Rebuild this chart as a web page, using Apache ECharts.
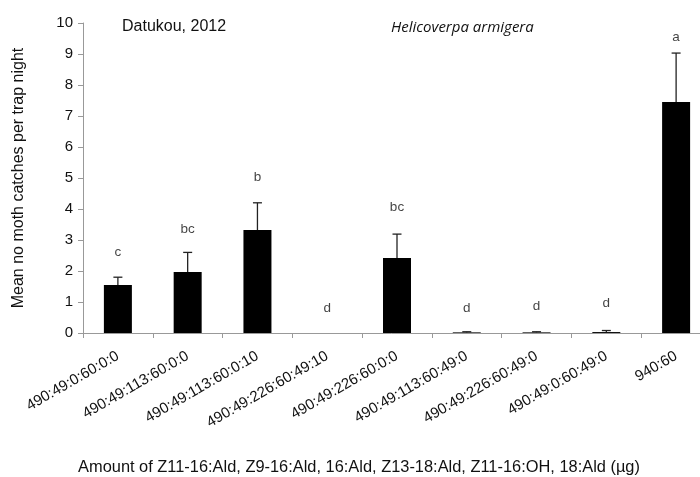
<!DOCTYPE html>
<html>
<head>
<meta charset="utf-8">
<script src="https://cdn.jsdelivr.net/npm/echarts@6/dist/echarts.min.js"></script>
<style>html,body{margin:0;padding:0;background:#fff}#c{width:700px;height:477px}</style>
</head>
<body>
<div id="c"></div>
<script>
var categories = ['490:49:0:60:0:0','490:49:113:60:0:0','490:49:113:60:0:10','490:49:226:60:49:10','490:49:226:60:0:0','490:49:113:60:49:0','490:49:226:60:49:0','490:49:0:60:49:0','940:60'];
var means = [1.55, 1.97, 3.32, 0, 2.42, 0.02, 0.02, 0.03, 7.45];
var errors = [0.25, 0.63, 0.88, 0, 0.77, 0.02, 0.02, 0.05, 1.58];
var letters = ['c','bc','b','d','bc','d','d','d','a'];
var letterPos = [2.6, 3.35, 5.03, 0.8, 4.06, 0.8, 0.87, 0.97, 9.55];
var yTicks = [0,1,2,3,4,5,6,7,8,9,10];

var chart = echarts.init(document.getElementById('c'));
var font = 'Liberation Sans, Arial, sans-serif';
chart.setOption({
  animation: false,
  backgroundColor: '#fff',
  grid: {left: 83, width: 628, top: 23, height: 310, outerBoundsMode: 'none', containLabel: false},
  title: [
    {text: 'Datukou, 2012', left: 117, top: 14, textStyle: {fontFamily: font, fontSize: 16, fontWeight: 'normal', color: '#111'}},
    {text: 'Helicoverpa armigera', left: 386, top: 15, textStyle: {fontFamily: 'Open Sans, sans-serif', fontStyle: 'italic', fontSize: 15, fontWeight: 'normal', color: '#111'}}
  ],
  xAxis: {
    type: 'category',
    data: categories,
    name: 'Amount of Z11-16:Ald, Z9-16:Ald, 16:Ald, Z13-18:Ald, Z11-16:OH, 18:Ald (\u00b5g)',
    nameLocation: 'middle',
    nameGap: 126,
    nameTextStyle: {fontFamily: font, fontSize: 16.4, color: '#111', padding: [0, 76, 0, 0]},
    axisLine: {lineStyle: {color: '#999', width: 1}},
    axisTick: {show: true, alignWithLabel: false, length: 5, lineStyle: {color: '#999'}},
    axisLabel: {interval: 0, rotate: 30, fontFamily: font, fontSize: 15, color: '#111', margin: 22}
  },
  yAxis: {
    type: 'value',
    min: 0, max: 10, interval: 1,
    name: 'Mean no moth catches per trap night',
    nameLocation: 'middle',
    nameGap: 56,
    nameTextStyle: {fontFamily: font, fontSize: 16, color: '#111'},
    splitLine: {show: false},
    axisLine: {show: true, lineStyle: {color: '#999', width: 1}},
    axisTick: {show: true, length: 5, lineStyle: {color: '#999'}},
    axisLabel: {fontFamily: font, fontSize: 15, color: '#111', margin: 10,
      formatter: function (v) { return yTicks.indexOf(v) >= 0 ? String(v) : ''; }}
  },
  series: [
    {
      type: 'bar',
      data: means,
      barWidth: 28,
      itemStyle: {color: '#000'},
      z: 2
    },
    {
      type: 'custom',
      z: 3,
      data: means.map(function (m, i) { return [i, m, m + errors[i]]; }),
      renderItem: function (params, api) {
        var i = api.value(0);
        var p0 = api.coord([i, api.value(1)]);
        var p1 = api.coord([i, api.value(2)]);
        if (api.value(2) - api.value(1) <= 0) return null;
        return {
          type: 'group',
          children: [
            {type: 'line', shape: {x1: p0[0], y1: p0[1], x2: p1[0], y2: p1[1]}, style: {stroke: '#222', lineWidth: 1.3}},
            {type: 'line', shape: {x1: p1[0] - 4.5, y1: p1[1], x2: p1[0] + 4.5, y2: p1[1]}, style: {stroke: '#222', lineWidth: 1.3}}
          ]
        };
      }
    },
    {
      type: 'scatter',
      data: letterPos.map(function (v, i) { return [i, v]; }),
      symbol: 'circle',
      symbolSize: 2,
      itemStyle: {color: 'rgba(0,0,0,0)'},
      z: 4,
      label: {
        show: true,
        position: 'inside',
        fontFamily: font,
        fontSize: 13.5,
        color: '#111',
        formatter: function (p) { return letters[p.dataIndex]; }
      }
    }
  ]
});
</script>
</body>
</html>
